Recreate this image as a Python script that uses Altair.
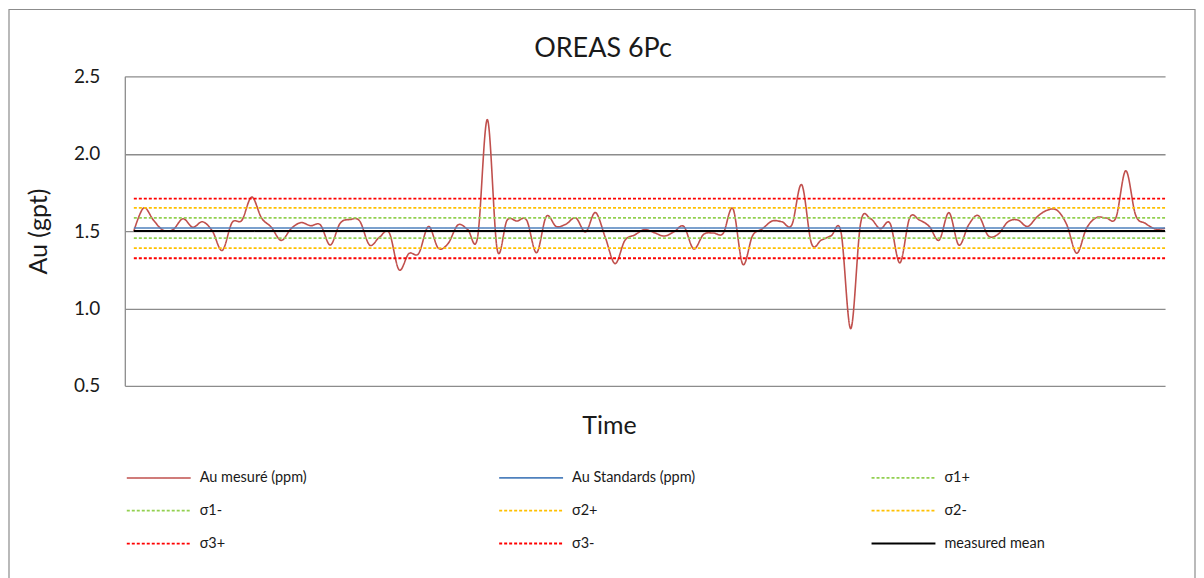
import altair as alt
import pandas as pd

# ---- data ----
au_measured = [
    1.50, 1.65, 1.57, 1.505, 1.51, 1.58, 1.525, 1.56, 1.50, 1.375,
    1.555, 1.57, 1.72, 1.585, 1.525, 1.44, 1.515, 1.555, 1.535, 1.54,
    1.41, 1.55, 1.575, 1.565, 1.41, 1.46, 1.49, 1.25, 1.355, 1.355,
    1.53, 1.39, 1.42, 1.54, 1.51, 1.46, 2.22, 1.38, 1.57, 1.565,
    1.57, 1.36, 1.595, 1.53, 1.545, 1.585, 1.495, 1.62, 1.46, 1.29,
    1.44, 1.475, 1.51, 1.49, 1.468, 1.495, 1.53, 1.385, 1.478, 1.488,
    1.485, 1.645, 1.286, 1.47, 1.515, 1.565, 1.56, 1.54, 1.80, 1.42,
    1.442, 1.47, 1.495, 0.87, 1.55, 1.58, 1.515, 1.55, 1.295, 1.586,
    1.571, 1.53, 1.442, 1.619, 1.41, 1.54, 1.60, 1.47, 1.48, 1.56,
    1.572, 1.53, 1.594, 1.635, 1.635, 1.54, 1.357, 1.518, 1.587, 1.585,
    1.587, 1.89, 1.604, 1.55, 1.514, 1.518,
]
measured_name = "Au mesuré (ppm)"
ref_names = ["Au Standards (ppm)", "σ1+", "σ1-", "σ2+", "σ2-", "σ3+", "σ3-", "measured mean"]
ref_values = [1.52, 1.585, 1.455, 1.65, 1.39, 1.71, 1.325, 1.50]

series_order = [measured_name] + ref_names
series_colors = ["#C0504D", "#4F81BD", "#92D050", "#92D050", "#FFC000", "#FFC000",
                 "#FF0000", "#FF0000", "#000000"]
series_dashes = [[1, 0], [1, 0], [3, 2], [3, 2], [3, 2], [3, 2], [3, 2], [3, 2], [1, 0]]
series_widths = [1.6, 2.0, 1.0, 1.0, 1.0, 1.0, 1.0, 1.0, 1.2]

n = len(au_measured)
meas_df = pd.DataFrame({"t": list(range(n)), "value": au_measured, "series": measured_name})
ref_rows = []
for name, v in zip(ref_names, ref_values):
    ref_rows.append({"t": 0, "value": v, "series": name})
    ref_rows.append({"t": n - 1, "value": v, "series": name})
ref_df = pd.DataFrame(ref_rows)

FONT = "Lato"

x_enc = alt.X("t:Q", scale=alt.Scale(domain=[-0.92, n - 1], nice=False, zero=False),
              axis=alt.Axis(title="Time", labels=False, ticks=False, grid=False, domain=False,
                            titleFont=FONT, titleFontSize=25, titleFontWeight="normal",
                            titleColor="#1a1a1a", titleX=485, titleY=40, titleBaseline="middle"))
y_enc = alt.Y("value:Q", scale=alt.Scale(domain=[0.5, 2.5], nice=False, zero=False),
              axis=alt.Axis(title="Au (gpt)", values=[0.5, 1.0, 1.5, 2.0, 2.5], format=".1f",
                            ticks=False, labelPadding=25, labelFont=FONT, labelFontSize=19,
                            labelColor="#1a1a1a", titleFont=FONT, titleFontSize=25,
                            titleFontWeight="normal", titleColor="#1a1a1a", titlePadding=22,
                            grid=True, gridColor="#8c8c8c", gridWidth=1.3,
                            domainColor="#8c8c8c", domainWidth=1.3))

color_enc = alt.Color("series:N", scale=alt.Scale(domain=series_order, range=series_colors),
                      legend=alt.Legend(orient="none", legendX=1, legendY=393, columns=3,
                                        direction="horizontal",
                                        gridAlign="all", columnPadding=172, rowPadding=17,
                                        symbolType="M-4,0H4", symbolSize=256,
                                        symbolOffset=24, symbolStrokeWidth=1.6,
                                        labelFont=FONT, labelFontSize=14.5,
                                        labelColor="#1a1a1a", labelOffset=32, title=None))
dash_enc = alt.StrokeDash("series:N", scale=alt.Scale(domain=series_order, range=series_dashes))
width_enc = alt.StrokeWidth("series:N", scale=alt.Scale(domain=series_order, range=series_widths),
                            legend=None)

border = alt.Chart(alt.Data(values=[{}])).mark_rect(
    filled=False, stroke="#8c8c8c", strokeWidth=1.2, clip=False
).encode(x=alt.value(-116), x2=alt.value(1072), y=alt.value(-67), y2=alt.value(505))

meas_line = alt.Chart(meas_df).mark_line(interpolate="cardinal").encode(
    x=x_enc, y=y_enc, color=color_enc, strokeDash=dash_enc, strokeWidth=width_enc)
ref_lines = alt.Chart(ref_df).mark_line().encode(
    x=x_enc, y=y_enc, color=color_enc, strokeDash=dash_enc, strokeWidth=width_enc)

chart = alt.layer(border, meas_line, ref_lines).properties(
    width=1042, height=310, padding=0,
    title=alt.TitleParams("OREAS 6Pc", font=FONT, fontSize=27, fontWeight="normal",
                          color="#1a1a1a", anchor="middle", frame="group", dx=-42, offset=-54),
).configure_view(stroke=None)

chart.save("out.html", embed_options={"renderer": "svg", "actions": False})
